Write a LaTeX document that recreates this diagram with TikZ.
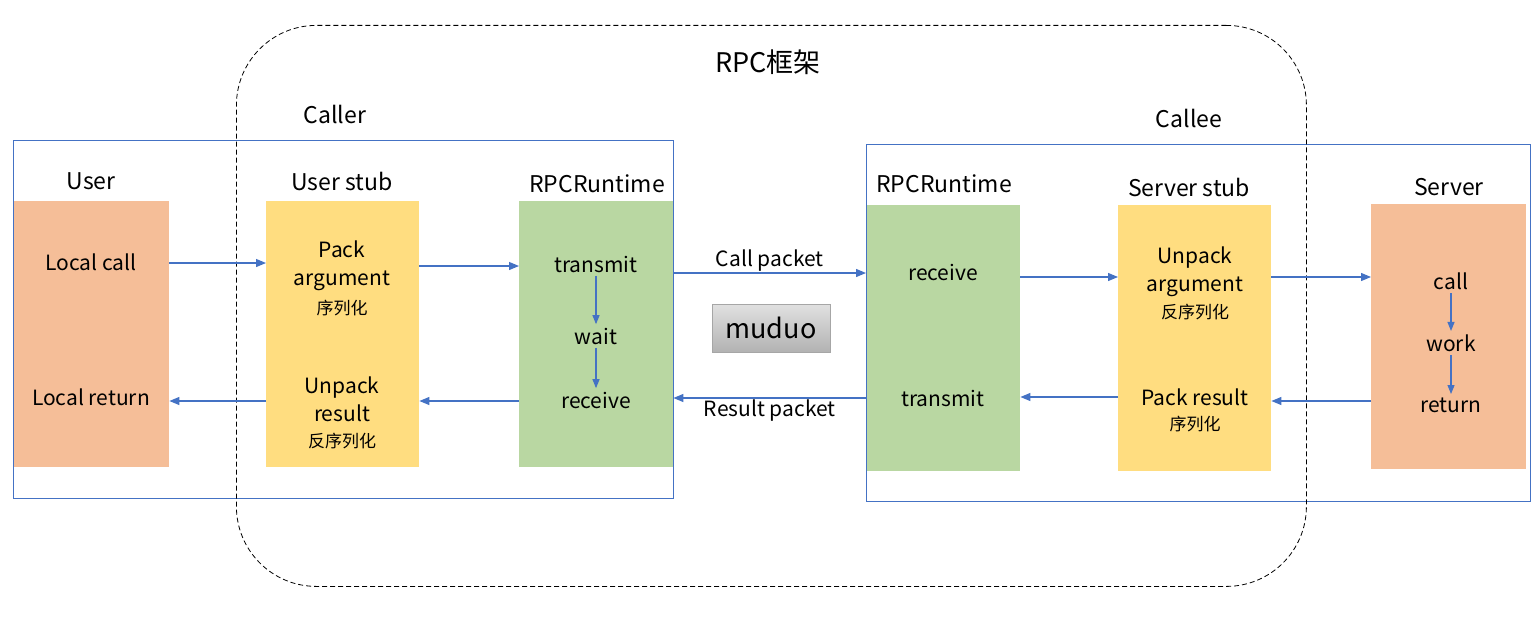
\documentclass[tikz,border=0pt]{standalone}
\usepackage{fontspec}
\setmainfont{Noto Sans CJK SC}
\usetikzlibrary{arrows.meta}

\definecolor{peach}{HTML}{F5BE98}
\definecolor{sand}{HTML}{FFDD80}
\definecolor{sage}{HTML}{B9D7A2}
\definecolor{linkblue}{HTML}{4472C4}

\begin{document}
\begin{tikzpicture}[x=1pt, y=-1pt,
    block/.style={rectangle, inner sep=0pt, anchor=north west,
        minimum width=154pt, minimum height=266pt},
    title/.style={font=\fontsize{23}{27}\selectfont},
    txt/.style={font=\fontsize{21}{28}\selectfont, align=center},
    cn/.style={font=\fontsize{17}{20}\selectfont},
    link/.style={draw=linkblue, line width=1.2pt, -{Triangle[length=10pt, width=8pt]}},
    hop/.style={draw=linkblue, line width=1.1pt, -{Triangle[length=9pt, width=7pt]}}]
    \useasboundingbox (0,0) rectangle (1538,618);

    % coloured blocks
    \node[block, fill=peach, minimum width=156pt] (user) at (13,201) {};
    \node[block, fill=sand, minimum width=153pt] (ustub) at (266,201) {};
    \node[block, fill=sage] (lrt) at (519,201) {};
    \node[block, fill=sage] (rrt) at (866,205) {};
    \node[block, fill=sand, minimum width=153pt] (sstub) at (1118,205) {};
    \node[block, fill=peach, minimum width=155pt, minimum height=265pt] (server) at (1371,204) {};

    % caller / callee frames
    \node[draw=linkblue, line width=0.8pt, inner sep=0pt, anchor=north west,
        minimum width=660pt, minimum height=358pt] (caller) at (13,140) {};
    \node[draw=linkblue, line width=0.8pt, inner sep=0pt, anchor=north west,
        minimum width=664pt, minimum height=357pt] (callee) at (866,144) {};

    % rpc framework
    \node[draw, dashed, dash pattern=on 5pt off 3pt, line width=0.8pt, rounded corners=80pt,
        inner sep=0pt, anchor=north west, minimum width=1070pt, minimum height=561pt] (frame) at (236,25) {};

    % titles
    \node[font=\fontsize{27}{32}\selectfont] (rpc) at (768,62) {RPC框架};
    \node[title] (callerlbl) at (335,114) {Caller};
    \node[title] (calleelbl) at (1189,118) {Callee};
    \node[title] (userlbl) at (91,181) {User};
    \node[title] (ustublbl) at (342,181) {User stub};
    \node[title] (lrtlbl) at (597,184) {RPCRuntime};
    \node[title] (rrtlbl) at (944,184) {RPCRuntime};
    \node[title] (sstublbl) at (1189,187) {Server stub};
    \node[title] (serverlbl) at (1449,187) {Server};

    % user
    \node[txt] (lcall) at (91,262) {Local call};
    \node[txt] (lret) at (91,397) {Local return};

    % user stub
    \node[txt] (pack) at (342,266) {Pack\\argument};
    \node[cn] (packcn) at (342,308) {序列化};
    \node[txt] (unpack) at (342,399) {Unpack\\result};
    \node[cn] (unpackcn) at (342,441) {反序列化};

    % runtime (caller)
    \node[txt] (ltx) at (596,264) {transmit};
    \node[txt] (lwait) at (596,336) {wait};
    \node[txt] (lrx) at (596,400) {receive};
    \draw[hop] (ltx.south) -- (lwait.north);
    \draw[hop] (lwait.south) -- (lrx.north);

    % runtime (callee)
    \node[txt] (rrx) at (943,272) {receive};
    \node[txt] (rtx) at (943,398) {transmit};

    % server stub
    \node[txt] (sunpack) at (1195,272) {Unpack\\argument};
    \node[cn] (sunpackcn) at (1195,312) {反序列化};
    \node[txt] (spack) at (1195,397) {Pack result};
    \node[cn] (spackcn) at (1195,424) {序列化};

    % server
    \node[txt] (scall) at (1451,281) {call};
    \node[txt] (swork) at (1451,343) {work};
    \node[txt] (sret) at (1451,405) {return};
    \draw[hop] (scall.south) -- (swork.north);
    \draw[hop] (swork.south) -- (sret.north);

    % muduo
    \node[draw=black!35, top color=black!12, bottom color=black!30, inner sep=0pt,
        minimum width=118pt, minimum height=48pt, font=\fontsize{27}{32}\selectfont] (muduo) at (771,328) {muduo};

    % calls
    \draw[link] ([yshift=-1pt]user.east |- lcall) -- ([yshift=-1pt]ustub.west |- lcall);
    \draw[link] ([yshift=-4pt]ustub.east |- lcall) -- ([yshift=-4pt]lrt.west |- lcall);
    \draw[link] ([yshift=-11pt]lrt.east |- lcall) -- node[txt, above, yshift=-2pt] {Call packet} ([yshift=-11pt]rrt.west |- lcall);
    \draw[link] ([yshift=-5pt]rrt.east |- sunpack) -- ([yshift=-5pt]sstub.west |- sunpack);
    \draw[link] ([yshift=-5pt]sstub.east |- sunpack) -- ([yshift=-5pt]server.west |- sunpack);

    % returns
    \draw[link] ([yshift=4pt]server.west |- sret) -- ([yshift=4pt]sstub.east |- sret);
    \draw[link] (sstub.west |- spack) -- (rrt.east |- spack);
    \draw[link] (rrt.west |- rtx) -- node[txt, below, yshift=2pt] {Result packet} (lrt.east |- rtx);
    \draw[link] ([yshift=-1pt]lrt.west |- lrx) -- ([yshift=-1pt]ustub.east |- lrx);
    \draw[link] ([yshift=-1pt]ustub.west |- lrx) -- ([yshift=-1pt]user.east |- lrx);
\end{tikzpicture}
\end{document}
